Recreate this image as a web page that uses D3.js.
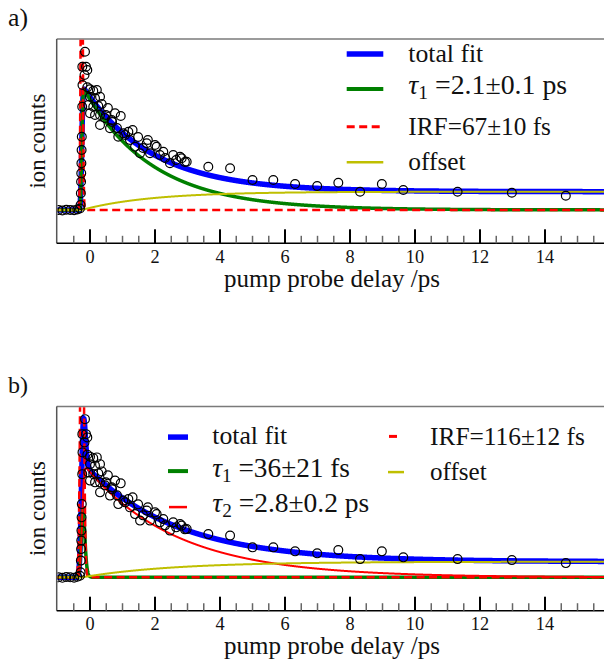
<!DOCTYPE html>
<html><head><meta charset="utf-8">
<script src="https://cdn.jsdelivr.net/npm/d3@7"></script>
<style>
body{margin:0;background:#fff}
svg{display:block}
text{font-family:"Liberation Serif","Times New Roman",serif;fill:#111}
</style>
</head><body>
<svg id="chart" width="604" height="662"></svg>
<script>
// ---------- data ----------
// pump-probe delay (ps) and normalised ion counts; the same measurement is shown in both panels
const delays = [
  -0.97,-0.85,-0.73,-0.61,-0.49,-0.39,-0.31,
  -0.29,-0.282,-0.275,-0.27,-0.265,-0.259,-0.253,-0.24,-0.232,
  -0.237,-0.154,-0.123,-0.083,-0.169,
  -0.083,0.0,0.10,0.21,0.0,0.154,0.308,-0.052,0.10,0.255,0.36,0.0,0.154,0.308,0.49,0.308,0.615,0.77,0.945,0.668,
  0.87,1.025,1.18,1.31,1.385,1.54,1.745,1.846,2.0,2.05,2.255,2.46,2.56,2.77,2.82,2.975,
  0.46,0.55,0.68,0.83,1.08,1.23,1.48,1.63,1.78,2.15,2.31,2.65,2.92,
  3.64,4.31,5.0,5.64,6.31,6.99,7.64,8.31,8.98,9.64,11.31,12.98,14.64
];
const counts = [
  0.0,-0.004,0.002,0.0,-0.003,0.004,0.012,
  0.04,0.134,0.226,0.294,0.374,0.48,0.586,0.826,1.0,
  1.146,1.266,1.146,1.12,1.08,
  0.982,0.966,0.954,0.96,0.906,0.894,0.906,0.84,0.826,0.832,0.848,0.774,0.76,0.76,0.76,0.68,0.654,0.774,0.752,0.72,
  0.586,0.614,0.626,0.64,0.506,0.454,0.534,0.454,0.52,0.506,0.466,0.374,0.44,0.426,0.414,0.386,
  0.736,0.816,0.704,0.656,0.6,0.56,0.584,0.496,0.56,0.44,0.416,0.4,0.384,
  0.346,0.334,0.24,0.24,0.208,0.192,0.218,0.146,0.208,0.16,0.146,0.138,0.114
];

const xMajorTicks = [0,2,4,6,8,10,12,14];
const xMinorTicks = [-0.5,0.5,1,1.5,2.5,3,3.5,4.5,5,5.5,6.5,7,7.5,8.5,9,9.5,10.5,11,11.5,12.5,13,13.5,14.5,15,15.5];
const xDomain = [-1.025, 16.0];
const yDomain = [-0.267, 1.368];

const panelLabels = ["a)", "b)"];
const xLabel = "pump probe delay /ps";
const yLabel = "ion counts";

// fit parameters (from the legends)
const fitT0      = [-0.255, -0.245];   // time zero, ps
const fitIRF     = [0.067, 0.116];     // IRF FWHM, ps
const fitIRFpeak = [3.0, 3.0];
const tauA = [2.1];        const ampA = [1.0];
const tauB = [0.036, 2.8]; const ampB = [2.2, 0.92];
const offsetAmp = [0.146, 0.125];
const offsetTau = [2.1, 2.8];

// legend entries
const legendA = [
  {sym:"", sub:"", rest:"total fit"},
  {sym:"τ", sub:"1", rest:" =2.1±0.1 ps"},
  {sym:"", sub:"", rest:"IRF=67±10 fs"},
  {sym:"", sub:"", rest:"offset"}
];
const legendB = [
  {sym:"", sub:"", rest:"total fit"},
  {sym:"τ", sub:"1", rest:" =36±21 fs"},
  {sym:"τ", sub:"2", rest:" =2.8±0.2 ps"},
  {sym:"", sub:"", rest:"IRF=116±12 fs"},
  {sym:"", sub:"", rest:"offset"}
];

// ---------- model helpers ----------
function erfcPoly(x){ const p=0.3275911, t=1/(1+p*x);
  return t*(0.254829592+t*(-0.284496736+t*(1.421413741+t*(-1.453152027+t*1.061405429)))); }
function stepConv(t,t0,s){ const d=t-t0, z=-d/(s*Math.SQRT2);
  return z>=0 ? 0.5*erfcPoly(z)*Math.exp(-z*z) : 0.5*(2-erfcPoly(-z)*Math.exp(-z*z)); }
function expConv(t,t0,tau,s){
  const d=t-t0, a=s*s/(2*tau*tau)-d/tau, x=(s*s/tau-d)/(s*Math.SQRT2);
  if(x>=0) return 0.5*erfcPoly(x)*Math.exp(-d*d/(2*s*s));
  return 0.5*(2*Math.exp(a)-erfcPoly(-x)*Math.exp(-d*d/(2*s*s)));
}
const grid = d3.range(-1.1, 16.3, 0.004);

const COL = {blue:"#0000ff", green:"#008000", red:"#ff0000", yellow:"#bfbf00"};
const svg = d3.select("#chart");

function fitWidth(sel, w){
  const l = sel.node().getComputedTextLength();
  const fs = parseFloat(sel.attr("font-size"));
  sel.attr("font-size", fs*w/l);
}

function addLegendText(g, d, x, y, w){
  const t = g.append("text").attr("x",x).attr("y",y).attr("font-size",20);
  if(d.sym){
    t.append("tspan").attr("font-style","italic").text(d.sym);
    t.append("tspan").attr("font-size","70%").attr("dy",5).text(d.sub);
    t.append("tspan").attr("dy",-5).text(d.rest);
  } else t.text(d.rest);
  fitWidth(t, w);
  return t;
}

function drawPanel(i){
  const top = 39 + i*367.4, bottom = top + 204.3, left = 56.7, right = 604;
  const x = d3.scaleLinear().domain(xDomain).range([left, left + (xDomain[1]-xDomain[0])*32.5]);
  const y = d3.scaleLinear().domain(yDomain).range([bottom, top]);
  const g = svg.append("g");

  // frame
  g.append("line").attr("x1",left).attr("x2",right).attr("y1",top).attr("y2",top)
    .attr("stroke","#7a7a7a").attr("stroke-width",1.5);
  g.append("line").attr("x1",left).attr("x2",left).attr("y1",top).attr("y2",bottom)
    .attr("stroke","#555").attr("stroke-width",1.5);

  // model curves
  const t0 = fitT0[i], s = fitIRF[i]/2.3548;
  const comps = [];
  if(i===0){
    const c1 = grid.map(t=>ampA[0]*expConv(t,t0,tauA[0],s));
    const off = grid.map(t=>offsetAmp[0]*(stepConv(t,t0,s)-expConv(t,t0,offsetTau[0],s)));
    const irf = grid.map(t=>fitIRFpeak[0]*Math.exp(-(t-t0)*(t-t0)/(2*s*s)));
    const tot = grid.map((t,k)=>c1[k]+off[k]);
    comps.push({v:tot,c:COL.blue,w:5.5},{v:c1,c:COL.green,w:3.5},
               {v:irf,c:COL.red,w:2.5,dash:"8,4.5"},{v:off,c:COL.yellow,w:2});
  } else {
    const c1 = grid.map(t=>ampB[0]*expConv(t,t0,tauB[0],s));
    const c2 = grid.map(t=>ampB[1]*expConv(t,t0,tauB[1],s));
    const off = grid.map(t=>offsetAmp[1]*(stepConv(t,t0,s)-expConv(t,t0,offsetTau[1],s)));
    const irf = grid.map(t=>fitIRFpeak[1]*Math.exp(-(t-t0)*(t-t0)/(2*s*s)));
    const tot = grid.map((t,k)=>c1[k]+c2[k]+off[k]);
    comps.push({v:tot,c:COL.blue,w:5.5},{v:c1,c:COL.green,w:3.5},{v:c2,c:COL.red,w:2},
               {v:irf,c:COL.red,w:2.5,dash:"8,4.5"},{v:off,c:COL.yellow,w:2});
  }
  const clipId = "clip"+i;
  svg.append("clipPath").attr("id",clipId).append("rect")
     .attr("x",left+0.8).attr("y",top+0.8).attr("width",right-left).attr("height",bottom-top-1.5);
  const plot = g.append("g").attr("clip-path",`url(#${clipId})`);
  const line = d3.line().x((d,k)=>x(grid[k])).y(d=>y(d));
  comps.forEach(c=>{
    plot.append("path").attr("d",line(c.v)).attr("fill","none")
      .attr("stroke",c.c).attr("stroke-width",c.w)
      .attr("stroke-dasharray",c.dash||null);
  });

  // data points
  plot.selectAll("circle").data(delays.map((t,k)=>[t,counts[k]])).join("circle")
    .attr("cx",d=>x(d[0])).attr("cy",d=>y(d[1])).attr("r",4.4)
    .attr("fill","none").attr("stroke","#000").attr("stroke-width",1.2);

  // x axis
  const ax = g.append("g");
  ax.append("line").attr("x1",left).attr("x2",right).attr("y1",bottom).attr("y2",bottom)
    .attr("stroke","#000").attr("stroke-width",1.6);
  ax.selectAll(".mj").data(xMajorTicks).join("line").attr("class","mj")
    .attr("x1",d=>x(d)).attr("x2",d=>x(d)).attr("y1",bottom).attr("y2",bottom-14)
    .attr("stroke","#000").attr("stroke-width",2);
  ax.selectAll(".mn").data(xMinorTicks).join("line").attr("class","mn")
    .attr("x1",d=>x(d)).attr("x2",d=>x(d)).attr("y1",bottom).attr("y2",bottom-7.5)
    .attr("stroke","#666").attr("stroke-width",1.5);
  ax.selectAll(".tl").data(xMajorTicks).join("text").attr("class","tl")
    .attr("x",d=>x(d)).attr("y",bottom+19.4).attr("text-anchor","middle")
    .attr("font-size",18.3).text(d=>d);

  const xl = g.append("text").attr("x",332).attr("y",bottom+43.7).attr("text-anchor","middle")
    .attr("font-size",20).text(xLabel);
  fitWidth(xl,216);

  const yl = g.append("text").attr("transform",`translate(45,${(top+bottom)/2}) rotate(-90)`)
    .attr("text-anchor","middle").attr("font-size",20).text(yLabel);
  fitWidth(yl,95);

  const pl = g.append("text").attr("x",8).attr("y",top-13).attr("font-size",22).text(panelLabels[i]);
  fitWidth(pl,20);

  // legend
  const lg = g.append("g");
  if(i===0){
    const hy = [15,50,87.7,123.3], ty=[23.3,55,96,131], widths=[75,159,142.7,57.3];
    const st = [{c:COL.blue,w:5.5},{c:COL.green,w:4},{c:COL.red,w:3,dash:"8,4.5"},{c:COL.yellow,w:2.5}];
    legendA.forEach((d,k)=>{
      lg.append("line").attr("x1",346.7).attr("x2",383.3).attr("y1",top+hy[k]).attr("y2",top+hy[k])
        .attr("stroke",st[k].c).attr("stroke-width",st[k].w).attr("stroke-dasharray",st[k].dash||null);
      addLegendText(lg,d,408.3,top+ty[k],widths[k]);
    });
  } else {
    const pos = [
      {hx:[168,188],hy:30.7,tx:212.3,ty:38,w:75},
      {hx:[168,188],hy:64.7,tx:212.3,ty:71,w:137.7},
      {hx:[169,187],hy:100.7,tx:212.3,ty:106,w:157},
      {hx:[389,397],hy:30,tx:430,ty:39,w:155},
      {hx:[388,404],hy:65.7,tx:430,ty:74,w:56.7}
    ];
    const st = [{c:COL.blue,w:5.5},{c:COL.green,w:4},{c:COL.red,w:2.5},{c:COL.red,w:3},{c:COL.yellow,w:2.5}];
    legendB.forEach((d,k)=>{
      const p = pos[k];
      lg.append("line").attr("x1",p.hx[0]).attr("x2",p.hx[1]).attr("y1",top+p.hy).attr("y2",top+p.hy)
        .attr("stroke",st[k].c).attr("stroke-width",st[k].w);
      addLegendText(lg,d,p.tx,top+p.ty,p.w);
    });
  }
}
drawPanel(0);
drawPanel(1);
</script>
</body></html>
